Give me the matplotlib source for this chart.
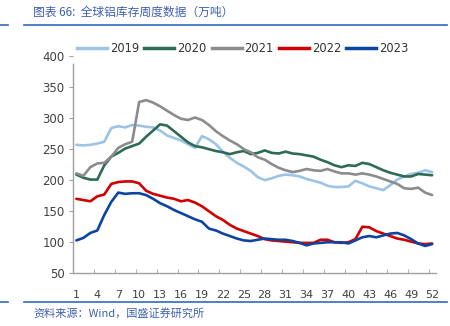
import matplotlib
matplotlib.use("Agg")
import matplotlib.pyplot as plt
from matplotlib.lines import Line2D

plt.rcParams['font.family'] = ['DejaVu Sans', 'Noto Sans CJK SC']

weeks = list(range(1, 53))
y2019 = [257, 256, 257, 259, 262, 284, 287, 285, 289, 288, 286, 285, 280, 272, 268, 264, 258, 252,
         271, 266, 258, 246, 236, 228, 222, 215, 205, 200, 203, 207, 209, 208, 206, 202, 199, 196,
         191, 189, 189, 190, 199, 195, 190, 187, 184, 192, 201, 206, 210, 212, 216, 213]
y2020 = [209, 204, 201, 201, 224, 238, 244, 251, 255, 259, 270, 280, 290, 288, 279, 270, 261, 255,
         253, 250, 247, 245, 242, 245, 247, 242, 244, 248, 244, 243, 246, 243, 242, 240, 238, 233,
         229, 224, 221, 224, 223, 228, 226, 221, 216, 212, 209, 206, 206, 210, 209, 208]
y2021 = [211, 207, 221, 227, 228, 238, 252, 258, 262, 326, 329, 325, 319, 312, 305, 299, 297, 301,
         297, 289, 279, 271, 264, 258, 250, 245, 237, 233, 226, 220, 216, 213, 215, 218, 216, 215,
         218, 214, 211, 211, 209, 211, 209, 206, 202, 198, 194, 187, 186, 188, 180, 176]
y2022 = [170, 168, 166, 174, 177, 194, 197, 198, 198, 195, 183, 178, 175, 172, 170, 166, 168, 164,
         158, 150, 142, 136, 128, 122, 118, 114, 110, 105, 103, 102, 101, 100, 99, 99, 99, 104,
         104, 100, 99, 100, 105, 125, 124, 118, 114, 110, 106, 104, 101, 98, 97, 98]
y2023 = [103, 107, 115, 119, 144, 165, 180, 178, 179, 179, 176, 170, 163, 158, 152, 147, 142, 137,
         133, 122, 119, 114, 110, 106, 103, 102, 104, 106, 105, 104, 104, 102, 99, 95, 98, 99,
         100, 100, 100, 98, 103, 108, 110, 108, 111, 114, 115, 111, 105, 98, 94, 97]

series = [("2019", y2019, "#9DC3E6"), ("2020", y2020, "#2E6B55"), ("2021", y2021, "#8C8C8C"),
          ("2022", y2022, "#D00000"), ("2023", y2023, "#0B45A0")]
xtick_labels = [str(w) for w in range(1, 53, 3)]

fig = plt.figure(figsize=(4.5, 3.26), dpi=100)
ax = fig.add_axes([0.162, 0.1617, 0.806, 0.6663])

for name, vals, col in series:
    ax.plot(weeks, vals, color=col, lw=1.9, label=name, solid_joinstyle='round', solid_capstyle='round')

ax.set_xlim(0.5, 52.5)
ax.set_ylim(50, 400)
ax.set_yticks(range(50, 401, 50))
ax.set_xticks(list(range(1, 53, 3)))
ax.set_xticklabels(xtick_labels)
ax.set_xticks([0.5 + 3 * i for i in range(18)], minor=True)
ax.tick_params(axis='x', which='major', length=0, pad=12, labelsize=8, colors='#404040')
ax.tick_params(axis='x', which='minor', length=3, direction='in', color='#A0A0A0')
ax.tick_params(axis='y', length=3, direction='out', color='#A0A0A0', labelsize=8.5,
               labelcolor='#404040', pad=3)
for s in ['top', 'right']:
    ax.spines[s].set_visible(False)
for s in ['left', 'bottom']:
    ax.spines[s].set_color('#A0A0A0')
    ax.spines[s].set_linewidth(1.0)
ax.spines['left'].set_bounds(50, 387)

handles = [Line2D([0], [0], color=c, lw=2.5) for _, _, c in series]
fig.legend(handles, [n for n, _, _ in series], loc='center', bbox_to_anchor=(0.54, 0.852),
           ncol=5, frameon=False, fontsize=8.3, handlelength=2.6, handletextpad=0.25,
           columnspacing=0.45, labelcolor='#333333')

title_col = '#3F5FAE'
fig.text(0.073, 0.963, "图表 66:  全球铝库存周度数据（万吨）", fontsize=8.5, color=title_col,
         style='italic', va='center', ha='left', family=['Noto Sans CJK SC', 'DejaVu Sans'])
line_col = '#2E6BC0'
fig.add_artist(Line2D([0.0, 0.018], [0.923, 0.923], color=line_col, lw=1.2, transform=fig.transFigure))
fig.add_artist(Line2D([0.053, 0.993], [0.923, 0.923], color=line_col, lw=1.2, transform=fig.transFigure))
fig.add_artist(Line2D([0.0, 0.018], [0.074, 0.074], color=line_col, lw=1.2, transform=fig.transFigure))
fig.add_artist(Line2D([0.053, 0.993], [0.074, 0.074], color=line_col, lw=1.2, transform=fig.transFigure))
fig.text(0.075, 0.04, "资料来源：Wind，国盛证券研究所", fontsize=8, color=title_col,
         style='italic', va='center', ha='left', family=['Noto Sans CJK SC', 'DejaVu Sans'])

fig.savefig("out.png", dpi=100)
